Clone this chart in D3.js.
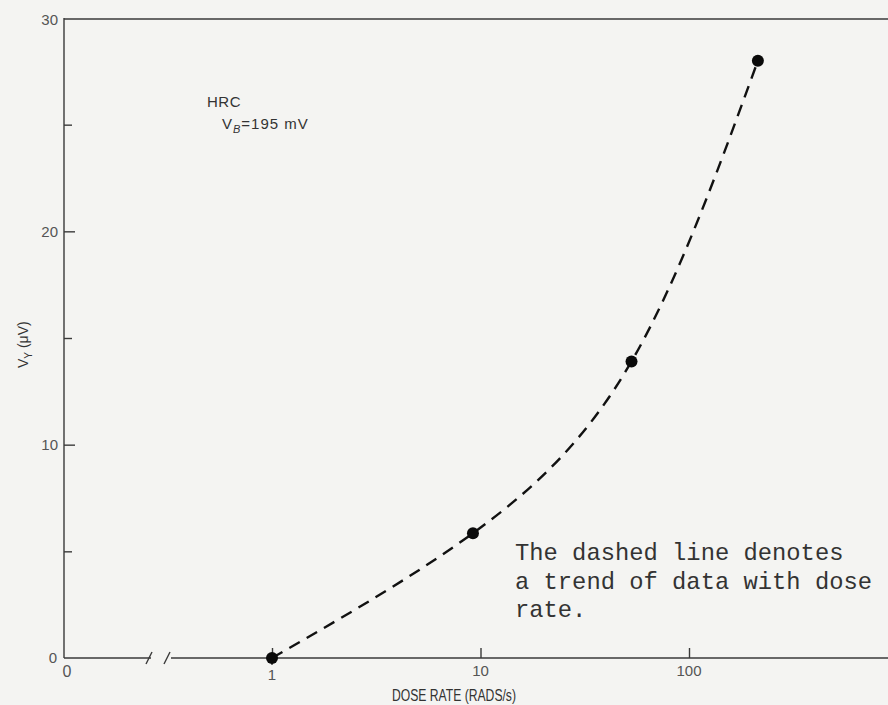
<!DOCTYPE html>
<html>
<head>
<meta charset="utf-8">
<script src="https://cdn.jsdelivr.net/npm/d3@7"></script>
<style>
  body { margin: 0; background: #f4f4f2; }
  svg { display: block; }
</style>
</head>
<body>
<div id="chart-area"></div>
<script>
// values
var doseRate = [1, 9.2, 53, 214];
var vy = [0, 5.85, 13.9, 28.0];
var xTicks = [1, 10, 100];
var yTicks = [0, 10, 20, 30];
var yMinor = [5, 15, 25];
var note = ["The dashed line denotes", "a trend of data with dose", "rate."];

var W = 888, H = 705;
var plotLeft = 64, plotTop = 18, plotBottom = 658;

var svg = d3.select("#chart-area").append("svg")
	.attr("width", W)
	.attr("height", H);

var x = d3.scaleLog()
	.domain([1, 1000])
	.range([272, 272 + 3 * 208.5]);

var y = d3.scaleLinear()
	.domain([0, 30])
	.range([plotBottom, plotTop]);

var ink = "#3a3a3a";
var sans = "'Liberation Sans', Arial, sans-serif";

// frame: left axis, top line, broken bottom axis
var axes = svg.append("g").attr("stroke", ink).attr("stroke-width", 1.4).attr("fill", "none");
axes.append("line").attr("x1", plotLeft).attr("x2", plotLeft).attr("y1", plotTop).attr("y2", plotBottom);
axes.append("line").attr("x1", plotLeft).attr("x2", W).attr("y1", plotTop + 1).attr("y2", plotTop + 1);
axes.append("line").attr("x1", plotLeft).attr("x2", 151).attr("y1", plotBottom).attr("y2", plotBottom);
axes.append("line").attr("x1", 171).attr("x2", W).attr("y1", plotBottom).attr("y2", plotBottom);
[149, 167].forEach(function(bx) {
	axes.append("line")
		.attr("x1", bx - 3).attr("y1", plotBottom + 6)
		.attr("x2", bx + 3).attr("y2", plotBottom - 6);
});

// y ticks (inward)
svg.append("g")
	.attr("transform", "translate(" + plotLeft + ",0)")
	.call(d3.axisRight(y).tickValues(yTicks.slice(1, 3)).tickSize(11).tickFormat(""))
	.call(function(g) { g.select(".domain").remove(); g.selectAll("line").attr("stroke", ink).attr("stroke-width", 1.4); });
svg.append("g")
	.attr("transform", "translate(" + plotLeft + ",0)")
	.call(d3.axisRight(y).tickValues(yMinor).tickSize(8).tickFormat(""))
	.call(function(g) { g.select(".domain").remove(); g.selectAll("line").attr("stroke", ink).attr("stroke-width", 1.4); });

svg.append("g").selectAll("text")
	.data(yTicks)
	.join("text")
	.attr("x", function(d) { return d === 0 ? 57 : 58; })
	.attr("y", function(d) { return y(d) + (d === 30 ? 2 : 0); })
	.attr("dy", "0.35em")
	.attr("text-anchor", "end")
	.attr("font-family", sans)
	.attr("font-size", "15px")
	.attr("fill", "#555")
	.text(function(d) { return d; });

// x ticks (inward), the "1" tick also pokes below the axis
svg.append("g")
	.attr("transform", "translate(0," + plotBottom + ")")
	.call(d3.axisTop(x).tickValues(xTicks).tickSize(10).tickFormat(""))
	.call(function(g) { g.select(".domain").remove(); g.selectAll("line").attr("stroke", ink).attr("stroke-width", 1.4); });
svg.append("line")
	.attr("x1", x(1)).attr("x2", x(1))
	.attr("y1", plotBottom).attr("y2", plotBottom + 7)
	.attr("stroke", ink).attr("stroke-width", 1.4);

svg.append("g").selectAll("text")
	.data(xTicks)
	.join("text")
	.attr("x", function(d) { return x(d); })
	.attr("y", function(d) { return d === 1 ? 680 : 676; })
	.attr("text-anchor", "middle")
	.attr("font-family", sans)
	.attr("font-size", "15px")
	.attr("fill", "#555")
	.text(function(d) { return d; });

svg.append("text")
	.attr("x", 67).attr("y", 677)
	.attr("text-anchor", "middle")
	.attr("font-family", sans)
	.attr("font-size", "16px")
	.attr("fill", "#555")
	.text("0");

// axis titles
svg.append("text")
	.attr("x", 392).attr("y", 701)
	.attr("font-family", sans)
	.attr("font-size", "16px")
	.attr("textLength", 124)
	.attr("lengthAdjust", "spacingAndGlyphs")
	.attr("fill", "#333")
	.text("DOSE RATE (RADS/s)");

var yl = svg.append("text")
	.attr("transform", "translate(28,368) rotate(-90)")
	.attr("font-family", sans)
	.attr("font-size", "14px")
	.attr("fill", "#333");
yl.append("tspan").text("V");
yl.append("tspan").attr("font-size", "10px").attr("dy", 4).text("Y");
yl.append("tspan").attr("dy", -4).text(" (\u03BCV)");

// annotation HRC
svg.append("text")
	.attr("x", 207).attr("y", 107)
	.attr("font-family", sans)
	.attr("font-size", "15px")
	.attr("letter-spacing", "0.5px")
	.attr("fill", "#333")
	.text("HRC");
var vb = svg.append("text")
	.attr("x", 222).attr("y", 129)
	.attr("font-family", sans)
	.attr("font-size", "15px")
	.attr("letter-spacing", "1px")
	.attr("fill", "#333");
vb.append("tspan").text("V");
vb.append("tspan").attr("font-size", "11px").attr("font-style", "italic").attr("dy", 4).text("B");
vb.append("tspan").attr("dy", -4).text("=195 mV");

// trend curve
var pts = doseRate.map(function(d, i) { return [d, vy[i]]; });
var line = d3.line()
	.x(function(d) { return x(d[0]); })
	.y(function(d) { return y(d[1]); })
	.curve(d3.curveNatural);

svg.append("path")
	.datum(pts)
	.attr("d", line)
	.attr("fill", "none")
	.attr("stroke", "#111")
	.attr("stroke-width", 2.4)
	.attr("stroke-dasharray", "12,8");

svg.append("g").selectAll("circle")
	.data(pts)
	.join("circle")
	.attr("cx", function(d) { return x(d[0]); })
	.attr("cy", function(d) { return y(d[1]); })
	.attr("r", 6)
	.attr("fill", "#0a0a0a");

// note in typewriter text
svg.append("g").selectAll("text")
	.data(note)
	.join("text")
	.attr("x", 515)
	.attr("y", function(d, i) { return 560 + i * 28.7; })
	.attr("font-family", "'Courier New', 'Liberation Mono', monospace")
	.attr("font-size", "23.8px")
	.attr("fill", "#333")
	.text(function(d) { return d; });
</script>
</body>
</html>
